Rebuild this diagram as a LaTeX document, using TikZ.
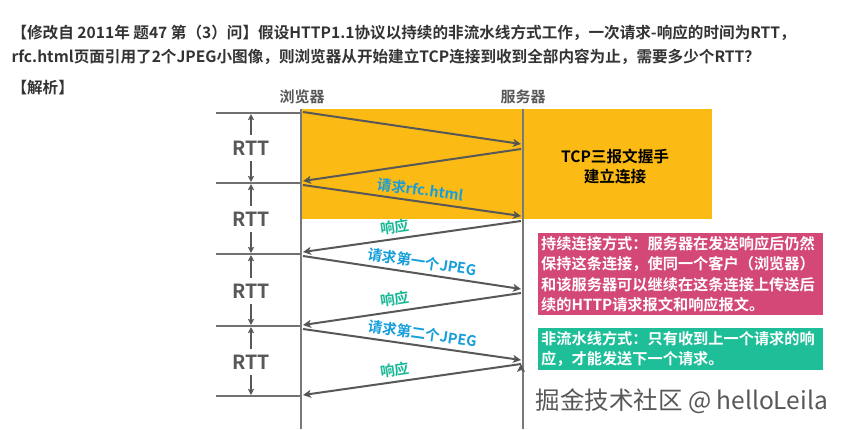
\documentclass[tikz,border=0pt]{standalone}
\usepackage{fontspec}
\setmainfont{Noto Sans CJK SC}[BoldFont={Noto Sans CJK SC Bold}]
\usetikzlibrary{arrows.meta}
\definecolor{tcpyellow}{RGB}{252,186,20}
\definecolor{keeppink}{RGB}{212,72,120}
\definecolor{nopipegreen}{RGB}{30,190,152}
\definecolor{reqblue}{RGB}{22,158,218}
\definecolor{respgreen}{RGB}{24,184,150}
\definecolor{ink}{RGB}{51,51,51}
\definecolor{linegray}{RGB}{88,88,88}
\begin{document}
\begin{tikzpicture}[x=1pt,y=-1pt,
	msg/.style={-{Stealth[length=8pt,width=8pt,inset=2pt]},line width=2pt,draw=linegray},
	life/.style={draw=linegray!80,line width=1.2pt},
	rttline/.style={draw=linegray!85,line width=1.2pt},
	tick/.style={-{Stealth[length=6pt,width=6pt,inset=1pt]},line width=1.6pt,draw=linegray,shorten <=2pt,shorten >=1pt},
	rtt/.style={text=linegray,font=\bfseries\fontsize{19.5}{19.5}\selectfont},
	head/.style={text=linegray,font=\bfseries\fontsize{15}{15}\selectfont},
	req/.style={sloped,above=3pt,text=reqblue,font=\bfseries\fontsize{14.5}{14.5}\selectfont,inner sep=1pt},
	resp/.style={sloped,above=3pt,text=respgreen,font=\bfseries\fontsize{14.5}{14.5}\selectfont,inner sep=1pt},
	note/.style={anchor=north west,text=white,align=left,text width=279pt,inner xsep=3pt,inner ysep=3pt,font=\bfseries\fontsize{15.2}{20.5}\selectfont}]
	\useasboundingbox (0,0) rectangle (853,429);
	\fill[white] (0,0) rectangle (853,429);
	\node[anchor=west,text=ink,font=\bfseries\fontsize{15.6}{15.6}\selectfont] (title1) at (8,33) {【修改自 2011年 题47 第（3）问】假设HTTP1.1协议以持续的非流水线方式工作，一次请求-响应的时间为RTT，};
	\node[anchor=west,text=ink,font=\bfseries\fontsize{15.6}{15.6}\selectfont] (title2) at (8,57) {rfc.html页面引用了2个JPEG小图像，则浏览器从开始建立TCP连接到收到全部内容为止，需要多少个RTT？};
	\node[anchor=west,text=ink,font=\bfseries\fontsize{15.6}{15.6}\selectfont] (answer) at (8,88) {【解析】};
	\fill[tcpyellow] (301,109) rectangle (712,219);
	\node[text=black,align=center,font=\bfseries\fontsize{15.6}{20}\selectfont] (tcp) at (615,167) {TCP三报文握手\\建立连接};
	\node[head] (browser) at (302,97) {浏览器};
	\node[head] (server) at (523,97) {服务器};
	\draw[life] (301,109) -- (301,429);
	\draw[life] (523,109) -- (523,429);
	\coordinate (m0) at (216,113);
	\coordinate (m1) at (216,183);
	\coordinate (m2) at (216,254);
	\coordinate (m3) at (216,326);
	\coordinate (m4) at (216,396);
	\draw[rttline] (m0) -- (301,113);
	\draw[rttline] (m1) -- (301,183);
	\draw[rttline,line width=2.2pt] (m2) -- (301,254);
	\draw[rttline] (m3) -- (301,326);
	\draw[rttline] (m4) -- (301,396);
	\node[rtt] (rtt1) at (251,148) {RTT};
	\node[rtt] (rtt2) at (251,219) {RTT};
	\node[rtt] (rtt3) at (251,291) {RTT};
	\node[rtt] (rtt4) at (251,362) {RTT};
	\draw[tick] (rtt1.north) -- (rtt1 |- m0);
	\draw[tick] (rtt1.south) -- (rtt1 |- m1);
	\draw[tick] (rtt2.north) -- (rtt2 |- m1);
	\draw[tick] (rtt2.south) -- (rtt2 |- m2);
	\draw[tick] (rtt3.north) -- (rtt3 |- m2);
	\draw[tick] (rtt3.south) -- (rtt3 |- m3);
	\draw[tick] (rtt4.north) -- (rtt4 |- m3);
	\draw[tick] (rtt4.south) -- (rtt4 |- m4);
	\coordinate (b1) at (303,112); \coordinate (s1) at (521,144);
	\coordinate (s2) at (521,149); \coordinate (b2) at (303,181);
	\coordinate (b3) at (303,185); \coordinate (s3) at (521,216);
	\coordinate (s4) at (521,221); \coordinate (b4) at (303,252);
	\coordinate (b5) at (303,256); \coordinate (s5) at (521,289);
	\coordinate (s6) at (521,293); \coordinate (b6) at (303,325);
	\coordinate (b7) at (303,329); \coordinate (s7) at (521,360);
	\coordinate (s8) at (521,364); \coordinate (b8) at (303,395);
	\path[msg]
	(b1) edge (s1)
	(s2) edge (b2)
	(b3) edge node[req,pos=0.53] {请求rfc.html} (s3)
	(s4) edge node[resp,pos=0.57] {响应} (b4)
	(b5) edge node[req,pos=0.54] {请求第一个JPEG} (s5)
	(s6) edge node[resp,pos=0.57] {响应} (b6)
	(b7) edge node[req,pos=0.54] {请求第二个JPEG} (s7)
	(s8) edge node[resp,pos=0.57] {响应} (b8);
	\node[note,fill=keeppink] (keep) at (538,233) {持续连接方式：服务器在发送响应后仍然\\保持这条连接，使同一个客户（浏览器）\\和该服务器可以继续在这条连接上传送后\\续的HTTP请求报文和响应报文。};
	\node[note,fill=nopipegreen] (nopipe) at (538,328) {非流水线方式：只有收到上一个请求的响\\应，才能发送下一个请求。};
	\node[anchor=west,text=linegray,font=\fontsize{24.5}{24.5}\selectfont] (sign) at (532,401) {掘金技术社区 @ helloLeila};
\end{tikzpicture}
\end{document}
